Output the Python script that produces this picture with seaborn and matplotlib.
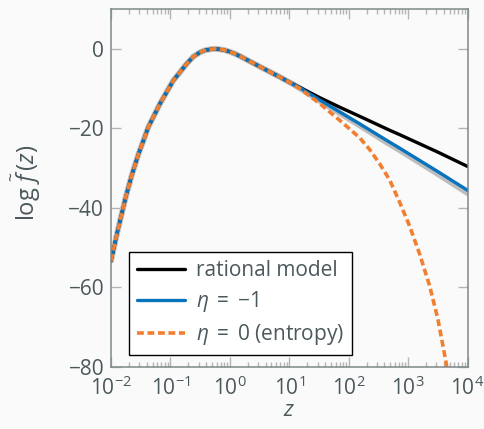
import numpy as np
import pandas as pd
import matplotlib
matplotlib.use("Agg")
import matplotlib.pyplot as plt
import seaborn as sns
from matplotlib.ticker import LogLocator, FixedLocator

# --- data: log10(z) and log f~(z) for each model ---
# rising branch and peak, shared by all three models
shared_logz = [-2.0, -1.888, -1.753, -1.652, -1.541, -1.373, -1.176, -0.953,
               -0.728, -0.616, -0.504, -0.4, -0.252, -0.1, 0.0, 0.084, 0.168,
               0.34, 0.504, 0.672, 0.84, 1.0]
shared_val = [-53.3, -45.7, -37.3, -31.8, -26.6, -19.7, -13.8, -8.0,
              -3.8, -2.0, -0.9, -0.3, 0.0, -0.3, -0.75, -1.25, -1.85,
              -3.2, -4.5, -5.8, -7.1, -8.4]

# tails beyond z ~ 10
rational_logz = [1.176, 1.513, 1.849, 2.185, 2.689, 2.857, 3.5, 4.0]
rational_val = [-9.7, -12.3, -14.7, -17.0, -20.5, -21.6, -26.0, -29.6]

eta_m1_logz = [1.176, 1.513, 1.849, 2.185, 2.689, 2.857, 3.5, 4.0]
eta_m1_val = [-9.8, -12.9, -15.9, -18.9, -23.5, -25.0, -30.9, -35.6]

band_logz = [1.176, 1.513, 1.849, 2.185, 2.689, 2.857, 3.5, 4.0]
band_val = [-9.9, -13.1, -16.2, -19.3, -24.0, -25.5, -31.5, -36.3]

eta_0_logz = [1.176, 1.513, 1.849, 2.185, 2.35, 2.52, 2.689, 2.857, 3.025,
              3.193, 3.361, 3.501, 3.642, 3.66]
eta_0_val = [-10.0, -13.8, -18.0, -22.4, -25.3, -28.9, -33.0, -38.6, -44.6,
             -51.6, -59.6, -68.0, -79.2, -81.0]

labels = ["rational model", r"$\eta\;=\;{-}1$", r"$\eta\;=\;0\;$(entropy)"]
x_ticks = [1e-2, 1e-1, 1e0, 1e1, 1e2, 1e3, 1e4]
y_ticks = [0, -20, -40, -60, -80]


def frame(tail_logz, tail_val):
    lz = np.array(shared_logz + tail_logz)
    return pd.DataFrame({"z": 10.0 ** lz, "f": shared_val + tail_val})


TXT = "#4b585c"
BG = "#fafafa"
FS = 15

sns.set_theme(style="ticks")
plt.rcParams.update({
    "font.family": ["Open Sans", "DejaVu Sans"],
    "mathtext.fontset": "custom",
    "mathtext.rm": "Open Sans",
    "mathtext.it": "Open Sans:italic",
    "mathtext.bf": "Open Sans:bold",
    "text.color": TXT,
    "axes.labelcolor": TXT,
    "xtick.color": "#b4b4b4",
    "ytick.color": "#b4b4b4",
    "xtick.labelcolor": TXT,
    "ytick.labelcolor": TXT,
    "axes.edgecolor": "#7d8888",
    "figure.facecolor": BG,
    "axes.facecolor": BG,
})

fig = plt.figure(figsize=(4.85, 4.29), dpi=100)
ax = fig.add_axes([0.229, 0.145, 0.735, 0.834])

sns.lineplot(data=frame(band_logz, band_val), x="z", y="f", ax=ax,
             color="#bdbdbd", lw=4.2, estimator=None, sort=False, legend=False)
sns.lineplot(data=frame(rational_logz, rational_val), x="z", y="f", ax=ax,
             color="black", lw=2.4, estimator=None, sort=False, label=labels[0])
sns.lineplot(data=frame(eta_m1_logz, eta_m1_val), x="z", y="f", ax=ax,
             color="#0874bd", lw=2.4, estimator=None, sort=False, label=labels[1])
sns.lineplot(data=frame(eta_0_logz, eta_0_val), x="z", y="f", ax=ax,
             color="#f27f30", lw=2.6, estimator=None, sort=False, label=labels[2],
             dashes=False, linestyle=(0, (1.9, 1.0)))

ax.set_xscale("log")
ax.set_xlim(1e-2, 1e4)
ax.set_ylim(-80, 10)
ax.xaxis.set_major_locator(FixedLocator(x_ticks))
ax.xaxis.set_minor_locator(LogLocator(base=10, subs=np.arange(2, 10), numticks=20))
ax.yaxis.set_major_locator(FixedLocator(y_ticks))
ax.set_yticklabels([f"{v}".replace("-", "\u2212") for v in y_ticks])

ax.tick_params(which="both", direction="in", top=True, right=True,
               labelsize=FS, width=1.0)
ax.tick_params(which="major", length=7)
ax.tick_params(axis="x", which="major", pad=7)
ax.tick_params(axis="y", which="major", pad=5)
ax.tick_params(which="minor", length=3.5)
for s in ax.spines.values():
    s.set_linewidth(1.1)

ax.set_xlabel(r"$z$", fontsize=16, labelpad=0)
ax.set_ylabel(r"$\log\,\widetilde{f}\,(z)$", fontsize=17)
ax.yaxis.set_label_coords(-0.19, 0.515)

leg = ax.legend(loc="lower left", bbox_to_anchor=(0.05, 0.032), borderaxespad=0,
                fontsize=FS, frameon=True, fancybox=False, handlelength=2.3,
                handletextpad=0.5, labelspacing=0.38, borderpad=0.4)
leg.get_frame().set_edgecolor("black")
leg.get_frame().set_linewidth(1.0)
leg.get_frame().set_facecolor("white")
leg.get_frame().set_alpha(1.0)
for t in leg.get_texts():
    t.set_color(TXT)

fig.savefig("out.png", dpi=100, facecolor=BG)
